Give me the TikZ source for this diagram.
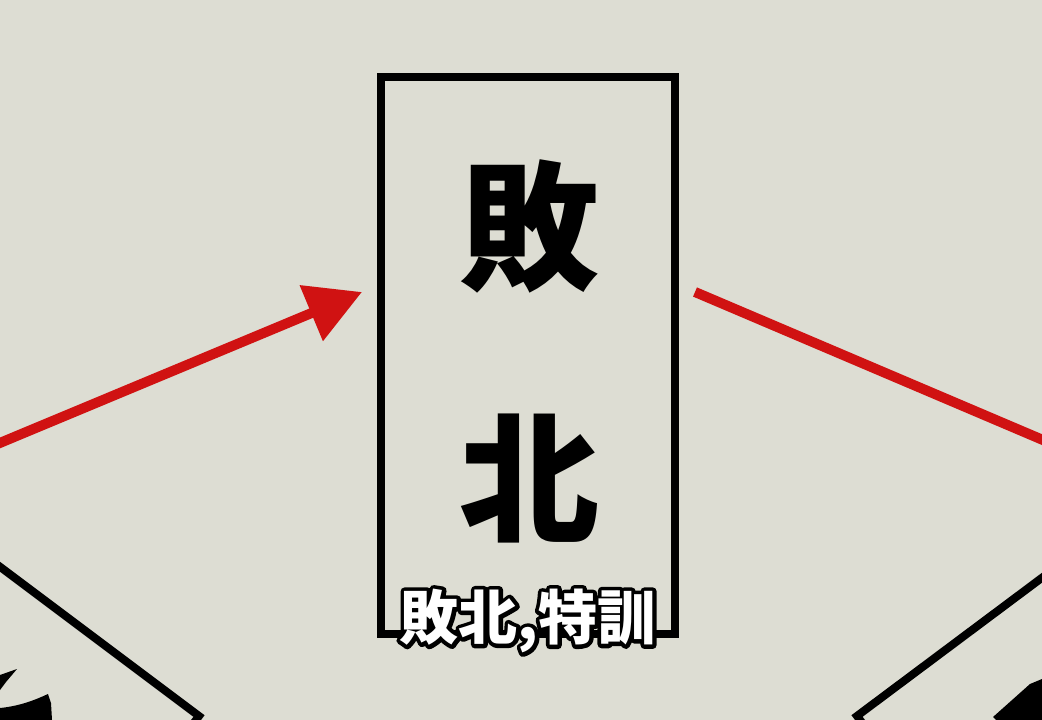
\documentclass[tikz,border=0pt]{standalone}
\usepackage{fontspec}
\newfontfamily\cjk{Noto Sans CJK JP}
\usetikzlibrary{arrows.meta,calc}
\definecolor{bg}{RGB}{221,221,211}
\definecolor{arrowred}{RGB}{208,18,18}
\newcommand{\strokedtext}[1]{\special{pdf:literal direct 1 j 1 J 8 w 1 Tr}#1\special{pdf:literal direct 0 Tr 1 w}}
\tikzset{
  frame/.style={draw=black, line width=8pt, line join=miter},
  bigchar/.style={font=\cjk\bfseries\fontsize{140}{140}\selectfont, inner sep=0pt},
  redline/.style={draw=arrowred, line width=10pt},
  subfont/.style={font=\cjk\bfseries\fontsize{59}{59}\selectfont, inner sep=0pt},
}
\begin{document}
\begin{tikzpicture}[x=1pt,y=-1pt]
\fill[bg] (0,0) rectangle (1042,720);
\useasboundingbox (0,0) rectangle (1042,720);
% central box
\node[frame, minimum width=294pt, minimum height=557pt, inner sep=0pt] (box) at (528,355.5) {};
\node[bigchar] (c1) at (529,226) {敗};
\node[bigchar] (c2) at (529,479) {北};
% red connectors
\coordinate (Lstart) at (-5,445);
\coordinate (Ltip) at (362,292);
\draw[redline, -{Triangle[length=55pt,width=58pt]}] (Lstart) -- (Ltip);
\coordinate (Rstart) at (695,292);
\coordinate (Rend) at (1050,443);
\draw[redline] (Rstart) -- (Rend);
% partial rotated boxes at the bottom corners
\coordinate (blA) at (-5,563);
\coordinate (blB) at (199,716);
\coordinate (blC) at (193,724);
\draw[frame] (blA) -- (blB) -- (blC);
\coordinate (brA) at (1047,574);
\coordinate (brB) at (857,716);
\coordinate (brC) at (863,724);
\draw[frame] (brA) -- (brB) -- (brC);
% glyph fragments inside the cut-off boxes
\fill[black] (0,675) -- (17,669) -- (6,682) -- (0,690) -- cycle;
\fill[black] (0,708) .. controls (20,706) and (35,700) .. (48,694) -- (51,703) -- (52,720) -- (0,720) -- cycle;
\fill[black] (993,717) -- (1030,684) -- (1042,679) -- (1042,720) -- (996,720) -- cycle;
% subtitle (white with black outline)
\node[subfont, text=black] (subout) at (528,621) {\strokedtext{敗北,特訓}};
\node[subfont, text=white] (sub) at (528,621) {敗北,特訓};
\end{tikzpicture}
\end{document}
